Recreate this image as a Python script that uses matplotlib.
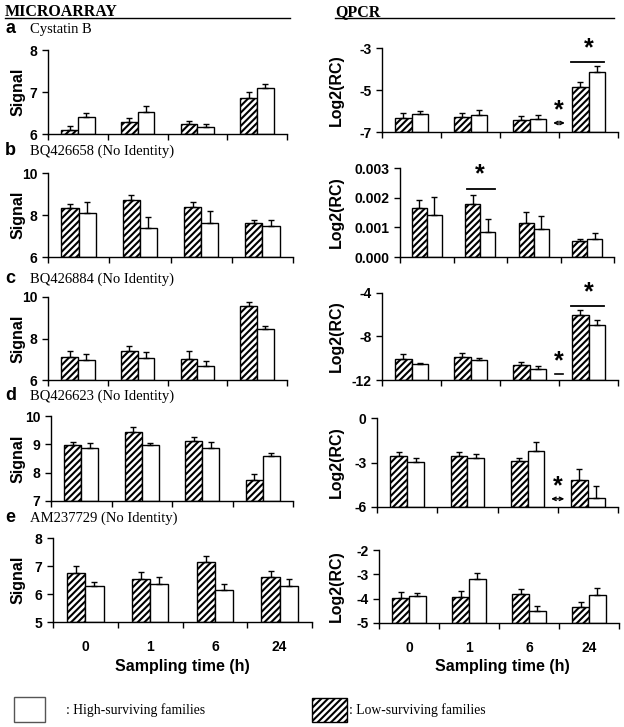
import numpy as np
import matplotlib
matplotlib.use("Agg")
import matplotlib.pyplot as plt
from matplotlib.patches import Rectangle

plt.rcParams['axes.unicode_minus'] = False
plt.rcParams['hatch.linewidth'] = 1.5
plt.rcParams['font.family'] = ['Liberation Sans', 'DejaVu Sans']

W, H = 624, 727

times = ['0', '1', '6', '24']
genes = ['Cystatin B', 'BQ426658 (No Identity)', 'BQ426884 (No Identity)',
         'BQ426623 (No Identity)', 'AM237729 (No Identity)']
letters = ['a', 'b', 'c', 'd', 'e']

# microarray signal: low-surviving (hatched) / high-surviving (white), upper error
ma_low = [[6.10, 6.28, 6.25, 6.86],
          [8.32, 8.73, 8.38, 7.63],
          [7.12, 7.41, 6.99, 9.58],
          [8.96, 9.44, 9.13, 7.73],
          [6.74, 6.52, 7.14, 6.59]]
ma_low_err = [[0.09, 0.09, 0.06, 0.13],
              [0.21, 0.22, 0.22, 0.12],
              [0.29, 0.24, 0.40, 0.20],
              [0.12, 0.16, 0.12, 0.24],
              [0.26, 0.25, 0.23, 0.23]]
ma_high = [[6.40, 6.52, 6.17, 7.09],
           [8.11, 7.37, 7.63, 7.48],
           [6.96, 7.04, 6.69, 8.48],
           [8.88, 8.96, 8.87, 8.58],
           [6.28, 6.36, 6.15, 6.27]]
ma_high_err = [[0.10, 0.14, 0.08, 0.09],
               [0.49, 0.53, 0.54, 0.30],
               [0.29, 0.29, 0.24, 0.14],
               [0.16, 0.10, 0.20, 0.11],
               [0.15, 0.26, 0.21, 0.28]]

# qPCR log2(RC)
qp_low = [[-6.33, -6.30, -6.44, -4.87],
          [0.00165, 0.00180, 0.00115, 0.00053],
          [-10.1, -9.85, -10.6, -5.98],
          [-2.59, -2.59, -2.91, -4.18],
          [-3.97, -3.93, -3.82, -4.35]]
qp_low_err = [[0.23, 0.20, 0.22, 0.25],
              [0.00028, 0.00028, 0.00036, 0.00009],
              [0.50, 0.35, 0.25, 0.40],
              [0.27, 0.27, 0.21, 0.73],
              [0.24, 0.26, 0.22, 0.23]]
qp_high = [[-6.14, -6.17, -6.38, -4.16],
           [0.00140, 0.00083, 0.00094, 0.00060],
           [-10.56, -10.2, -10.97, -6.96],
           [-2.95, -2.68, -2.25, -5.39],
           [-3.90, -3.20, -4.51, -3.84]]
qp_high_err = [[0.16, 0.23, 0.21, 0.29],
               [0.00062, 0.00046, 0.00044, 0.00021],
               [0.16, 0.25, 0.27, 0.52],
               [0.25, 0.27, 0.61, 0.79],
               [0.15, 0.27, 0.22, 0.29]]

ma_ticks = [[6, 7, 8], [6, 8, 10], [6, 8, 10], [7, 8, 9, 10], [5, 6, 7, 8]]
qp_ticks = [[-7, -5, -3], [0.0, 0.001, 0.002, 0.003], [-12, -8, -4], [-6, -3, 0], [-5, -4, -3, -2]]

# axes boxes in pixels: x0, x1, ytop, ybottom
ma_boxes = [(48, 287, 50, 134), (48, 293, 173, 257), (48, 287, 297, 380),
            (51, 293, 416, 501), (53, 312, 538, 622)]
qp_boxes = [(382, 618, 48, 132), (400, 614, 168, 257), (382, 618, 293, 380),
            (377, 618, 418, 507), (379, 619, 550, 623)]
label_y = [33, 155, 283, 400, 522]


def px_box(b):
    x0, x1, yt, yb = b
    return [x0 / W, 1 - yb / H, (x1 - x0) / W, (yb - yt) / H]


fig = plt.figure(figsize=(W / 100, H / 100), dpi=100)
ov = fig.add_axes([0, 0, 1, 1])
ov.set_xlim(0, W)
ov.set_ylim(H, 0)
ov.axis('off')

x = np.arange(len(times))
bw = 0.28


def draw_panel(ax, low, low_err, high, high_err, ticks, last, fmt=None):
    base = ticks[0]
    lo = np.array(low)
    hi = np.array(high)
    ax.bar(x - bw / 2, lo - base, bw, bottom=base, color='white', edgecolor='black',
           hatch='/////', linewidth=1)
    ax.bar(x + bw / 2, hi - base, bw, bottom=base, color='white', edgecolor='black',
           linewidth=1)
    ax.errorbar(x - bw / 2, lo, yerr=[np.zeros(4), low_err], fmt='none',
                ecolor='black', elinewidth=1, capsize=2.5, capthick=1)
    ax.errorbar(x + bw / 2, hi, yerr=[np.zeros(4), high_err], fmt='none',
                ecolor='black', elinewidth=1, capsize=2.5, capthick=1)
    ax.set_xlim(-0.5, 3.5)
    ax.set_ylim(ticks[0], ticks[-1])
    ax.set_yticks(ticks)
    if fmt:
        ax.set_yticklabels([fmt % t for t in ticks])
    ax.set_xticks(np.arange(-0.5, 4, 1))
    ax.set_xticklabels([])
    ax.tick_params(axis='both', direction='out', length=4, width=1, labelsize=10)
    for lab in ax.get_yticklabels():
        lab.set_fontweight('bold')
    for s in ['top', 'right']:
        ax.spines[s].set_visible(False)
    for s in ['left', 'bottom']:
        ax.spines[s].set_linewidth(1)
    if last:
        ax.set_xticks(x, minor=True)
        ax.set_xticklabels(times, minor=True, fontweight='bold', fontsize=10)
        ax.tick_params(axis='x', which='minor', length=0, pad=13)


axes_q = []
for i in range(5):
    axm = fig.add_axes(px_box(ma_boxes[i]))
    draw_panel(axm, ma_low[i], ma_low_err[i], ma_high[i], ma_high_err[i],
               ma_ticks[i], i == 4)
    axq = fig.add_axes(px_box(qp_boxes[i]))
    draw_panel(axq, qp_low[i], qp_low_err[i], qp_high[i], qp_high_err[i],
               qp_ticks[i], i == 4, fmt='%.3f' if i == 1 else None)
    axes_q.append(axq)

    yc = (ma_boxes[i][2] + ma_boxes[i][3]) / 2
    ov.text(18, yc, 'Signal', rotation=90, ha='center', va='center',
            fontsize=11.5, fontweight='bold')
    yc = (qp_boxes[i][2] + qp_boxes[i][3]) / 2
    ov.text(336, yc, 'Log2(RC)', rotation=90, ha='center', va='center',
            fontsize=11.5, fontweight='bold')
    ov.text(5, label_y[i], letters[i], ha='left', va='baseline',
            fontsize=13, fontweight='bold')
    ov.text(30, label_y[i], genes[i], ha='left', va='baseline',
            fontsize=10.5, family='Liberation Serif')

# significance marks
star = dict(ha='center', va='center', fontsize=18, fontweight='bold')


def dbl_arrow(ax, xc, y, half):
    ax.annotate('', xy=(xc + half, y), xytext=(xc - half, y), annotation_clip=False,
                arrowprops=dict(arrowstyle='<->,head_length=0.25,head_width=0.12',
                                lw=1, color='black', shrinkA=0, shrinkB=0))


ax = axes_q[0]
ax.plot([3 - 0.29, 3 + 0.27], [-3.67, -3.67], color='black', lw=1.3)
ax.text(3, -3.02, '*', **star)
ax.text(2.5, -5.95, '*', **star)
dbl_arrow(ax, 2.5, -6.57, 0.1)

ax = axes_q[1]
ax.plot([1 - 0.25, 1 + 0.27], [0.0023, 0.0023], color='black', lw=1.3)
ax.text(1, 0.00278, '*', **star)

ax = axes_q[2]
ax.plot([3 - 0.29, 3 + 0.27], [-5.18, -5.18], color='black', lw=1.3)
ax.text(3, -3.9, '*', **star)
ax.text(2.5, -10.3, '*', **star)
ax.plot([2.5 - 0.07, 2.5 + 0.07], [-11.48, -11.48], color='black', lw=1.2)

ax = axes_q[3]
ax.text(2.5, -4.6, '*', **star)
dbl_arrow(ax, 2.5, -5.45, 0.11)

# x labels
ov.text(182, 666, 'Sampling time (h)', ha='center', va='center', fontsize=11.5, fontweight='bold')
ov.text(502, 666, 'Sampling time (h)', ha='center', va='center', fontsize=11.5, fontweight='bold')

# headers
ov.text(5, 16, 'MICROARRAY', ha='left', va='baseline', fontsize=11.5,
        fontweight='bold', family='Liberation Serif')
ov.plot([5, 290], [17.5, 17.5], color='black', lw=1)
ov.text(335, 16, 'QPCR', ha='left', va='baseline', fontsize=11.5,
        fontweight='bold', family='Liberation Serif')
ov.plot([335, 614], [17.5, 17.5], color='black', lw=1)

# legend
ov.add_patch(Rectangle((14, 697), 31, 25, facecolor='white', edgecolor='#555555', lw=1))
ov.text(66, 710, ': High-surviving families', ha='left', va='center',
        fontsize=9.8, family='Liberation Serif')
ov.add_patch(Rectangle((312, 698), 35, 24, facecolor='white', edgecolor='black',
                       hatch='/////', lw=1))
ov.text(349, 710, ': Low-surviving families', ha='left', va='center',
        fontsize=9.8, family='Liberation Serif')

fig.savefig('out.png', dpi=100)
